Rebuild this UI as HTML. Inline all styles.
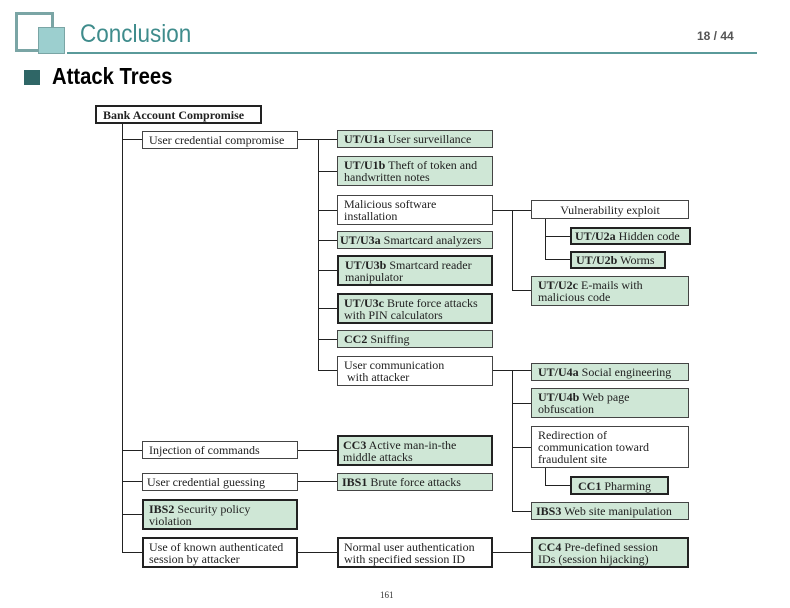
<!DOCTYPE html>
<html><head><meta charset="utf-8"><style>
body{margin:0;width:790px;height:608px;background:#fff;position:relative;overflow:hidden;font-family:"Liberation Serif",serif;}
.b{position:absolute;box-sizing:border-box;border:1px solid #444;background:#fff;font-size:12px;line-height:12px;color:#222;padding:0 6px;white-space:nowrap;display:flex;flex-direction:column;justify-content:center;}
.g{background:#cfe7d6;}
.t{border:2px solid #222;}
.c{text-align:center;}
b{font-weight:bold;}
</style></head><body>
<div style="position:absolute;left:15px;top:12px;width:33px;height:34px;border:3px solid #7aa5a5;"></div>
<div style="position:absolute;left:38px;top:27px;width:25px;height:25px;background:#9ccfcf;border:1px solid #7aa5a5;"></div>
<div style="position:absolute;left:80px;top:20px;font-family:'Liberation Sans',sans-serif;font-size:25px;color:#3f8c8c;transform:scaleX(0.9);transform-origin:left;">Conclusion</div>
<div style="position:absolute;left:67px;top:52px;width:690px;height:2px;background:#5a9a9a;"></div>
<div style="position:absolute;left:697px;top:29px;font-family:'Liberation Sans',sans-serif;font-size:12px;font-weight:bold;color:#555;">18 / 44</div>
<div style="position:absolute;left:24px;top:70px;width:16px;height:15px;background:#2f6666;"></div>
<div style="position:absolute;left:52px;top:63px;font-family:'Liberation Sans',sans-serif;font-size:23px;font-weight:bold;color:#000;transform:scaleX(0.88);transform-origin:left;">Attack Trees</div>

<svg style="position:absolute;left:0;top:0" width="790" height="608" stroke="#222" stroke-width="1" fill="none">
<path d="M122.5 123V552.5M122 139.5H142M122 450.5H142M122 481.5H142M122 514.5H142M122 552.5H142"/>
<path d="M298 139.5H318.5M318.5 139V370.5M318 139.5H337M318 171.5H337M318 210.5H337M318 240.5H337M318 270.5H337M318 308.5H337M318 339.5H337M318 370.5H337"/>
<path d="M493 210.5H531M512.5 210V290.5M512 290.5H531M545.5 218V259.5M545 236.5H570M545 259.5H570"/>
<path d="M493 370.5H531M512.5 370V511.5M512 403.5H531M512 447.5H531M512 511.5H531M545.5 467V485.5M545 485.5H570"/>
<path d="M298 450.5H337M298 481.5H337M298 552.5H337M493 552.5H531"/>
</svg>

<div class="b t" style="left:95px;top:105px;width:167px;height:19px;"><div><b>Bank Account Compromise</b></div></div>
<div class="b" style="left:142px;top:131px;width:156px;height:18px;"><div>User credential compromise</div></div>
<div class="b g" style="left:337px;top:130px;width:156px;height:18px;"><div><b>UT/U1a</b> User surveillance</div></div>
<div class="b g" style="left:337px;top:156px;width:156px;height:30px;"><div><b>UT/U1b</b> Theft of token and<br>handwritten notes</div></div>
<div class="b" style="left:337px;top:195px;width:156px;height:30px;"><div>Malicious software<br>installation</div></div>
<div class="b g" style="left:337px;top:231px;width:156px;height:18px;padding-left:2px;"><div><b>UT/U3a</b> Smartcard analyzers</div></div>
<div class="b g t" style="left:337px;top:255px;width:156px;height:31px;"><div><b>UT/U3b</b> Smartcard reader<br>manipulator</div></div>
<div class="b g t" style="left:337px;top:293px;width:156px;height:31px;padding-left:5px;"><div><b>UT/U3c</b> Brute force attacks<br>with PIN calculators</div></div>
<div class="b g" style="left:337px;top:330px;width:156px;height:18px;"><div><b>CC2</b> Sniffing</div></div>
<div class="b" style="left:337px;top:356px;width:156px;height:30px;"><div>User communication<br>&nbsp;with attacker</div></div>
<div class="b c" style="left:531px;top:200px;width:158px;height:19px;"><div>Vulnerability exploit</div></div>
<div class="b g t" style="left:570px;top:227px;width:121px;height:18px;padding:0 3px;"><div><b>UT/U2a</b> Hidden code</div></div>
<div class="b g t" style="left:570px;top:251px;width:96px;height:18px;padding:0 4px;"><div><b>UT/U2b</b> Worms</div></div>
<div class="b g" style="left:531px;top:276px;width:158px;height:30px;"><div><b>UT/U2c</b> E-mails with<br>malicious code</div></div>
<div class="b g" style="left:531px;top:363px;width:158px;height:18px;"><div><b>UT/U4a</b> Social engineering</div></div>
<div class="b g" style="left:531px;top:388px;width:158px;height:30px;"><div><b>UT/U4b</b> Web page<br>obfuscation</div></div>
<div class="b" style="left:531px;top:426px;width:158px;height:42px;"><div>Redirection of<br>communication toward<br>fraudulent site</div></div>
<div class="b g t" style="left:570px;top:476px;width:99px;height:19px;"><div><b>CC1</b> Pharming</div></div>
<div class="b g" style="left:531px;top:502px;width:158px;height:18px;padding-left:4px;"><div><b>IBS3</b> Web site manipulation</div></div>
<div class="b" style="left:142px;top:441px;width:156px;height:18px;"><div>Injection of commands</div></div>
<div class="b g t" style="left:337px;top:435px;width:156px;height:31px;padding-left:4px;"><div><b>CC3</b> Active man-in-the<br>middle attacks</div></div>
<div class="b" style="left:142px;top:473px;width:156px;height:18px;padding-left:4px;"><div>User credential guessing</div></div>
<div class="b g" style="left:337px;top:473px;width:156px;height:18px;padding-left:4px;"><div><b>IBS1</b> Brute force attacks</div></div>
<div class="b g t" style="left:142px;top:499px;width:156px;height:31px;padding-left:5px;"><div><b>IBS2</b> Security policy<br>violation</div></div>
<div class="b t" style="left:142px;top:537px;width:156px;height:31px;padding-left:5px;"><div>Use of known authenticated<br>session by attacker</div></div>
<div class="b t" style="left:337px;top:537px;width:156px;height:31px;padding-left:5px;"><div>Normal user authentication<br>with specified session ID</div></div>
<div class="b g t" style="left:531px;top:537px;width:158px;height:31px;padding-left:5px;"><div><b>CC4</b> Pre-defined session<br>IDs (session hijacking)</div></div>
<div style="position:absolute;left:380px;top:590px;font-size:9px;color:#333;">161</div>
</body></html>
